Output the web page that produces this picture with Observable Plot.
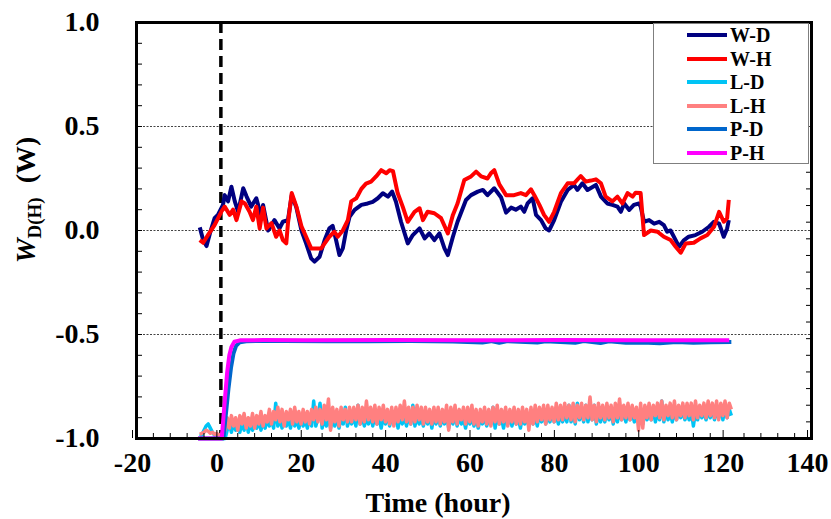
<!DOCTYPE html>
<html>
<head>
<meta charset="utf-8">
<script src="https://cdn.jsdelivr.net/npm/d3@7"></script>
<script src="https://cdn.jsdelivr.net/npm/@observablehq/plot@0.6"></script>
<style>
  body { margin: 0; background: #fff; }
  #wrap { position: relative; width: 831px; height: 519px; font-family: "Liberation Serif", "Times New Roman", serif; color: #000; }
  #chart svg { display: block; }
  .legend { position: absolute; left: 653px; top: 23px; width: 154px; height: 139px; border: 1px solid #7f7f7f; background: #fff; }
  .legend .row { position: absolute; left: 33px; height: 22px; display: flex; align-items: center; white-space: nowrap; }
  .legend .sw { display: inline-block; width: 40px; height: 4px; margin-right: 3px; }
  .legend .lb { font-weight: bold; font-size: 20px; line-height: 22px; }
  .ytitle { position: absolute; left: 28px; top: 200px; transform: translate(-50%, -50%) rotate(-90deg); white-space: nowrap; font-weight: bold; font-size: 28px; }
  .ytitle sub { font-size: 19px; vertical-align: -6px; font-style: normal; }
  .xtitle { position: absolute; left: 438px; top: 503px; transform: translate(-50%, -50%); white-space: nowrap; font-weight: bold; font-size: 28px; }
</style>
</head>
<body>
<div id="wrap">
  <div id="chart"></div>
  <div class="ytitle"><i>W</i><sub>D(H)</sub>&nbsp;&nbsp;(W)</div>
  <div class="xtitle">Time (hour)</div>
  <div class="legend" id="legend"></div>
</div>
<script>
// Series names and colours, in drawing order
const seriesNames = ["W-D", "W-H", "L-D", "L-H", "P-D", "P-H"];
const seriesColors = ["#000080", "#ff0000", "#00c4f5", "#ff8080", "#0066cc", "#ff00ff"];

// W-D and W-H: time (hour) and value (W)
const wdTime = [-5.0,-4.2,-3.4,-2.6,-1.5,-0.7,0.5,0.9,1.7,2.5,3.3,4.1,5.3,6.1,7.2,8.4,9.6,10.0,11.2,12.7,13.9,14.7,15.9,16.8,17.9,19.1,20.2,21.4,22.2,23.4,24.6,25.7,26.5,27.3,28.1,28.9,29.7,30.5,31.7,33.3,34.8,36.0,37.2,38.4,39.6,40.6,41.5,42.7,44.3,45.5,47.1,48.3,49.4,50.6,51.8,53.0,53.8,55.0,56.1,58.1,59.3,60.9,62.1,63.2,64.8,66.4,67.6,68.8,69.9,71.1,71.9,72.7,73.9,74.7,75.9,77.0,77.8,79.0,80.6,82.2,83.7,84.5,85.7,86.9,88.9,90.1,91.6,92.8,94.0,94.8,95.6,96.8,97.9,99.1,99.5,100.3,101.5,102.7,103.9,105.0,105.8,106.6,107.8,108.6,109.8,110.9,112.5,114.1,115.7,116.9,118.1,119.2,120.0,120.4];
const wdValue = [0.015,-0.046,-0.075,-0.014,0.059,0.075,0.123,0.17,0.14,0.21,0.14,0.09,0.203,0.163,0.115,0.155,0.066,0.123,0.0,0.05,0.01,0.042,0.05,0.17,0.11,0.0,-0.062,-0.134,-0.15,-0.126,-0.046,0.01,0.022,-0.046,-0.118,-0.086,0.0,0.066,0.099,0.123,0.13,0.138,0.155,0.179,0.163,0.187,0.138,0.042,-0.062,-0.022,0.01,-0.038,-0.014,-0.046,-0.014,-0.086,-0.118,-0.03,0.042,0.147,0.17,0.187,0.195,0.17,0.203,0.16,0.086,0.11,0.1,0.115,0.09,0.13,0.155,0.075,0.05,0.01,0.0,0.05,0.138,0.195,0.219,0.195,0.227,0.195,0.219,0.163,0.13,0.123,0.115,0.09,0.13,0.099,0.123,0.13,0.115,0.042,0.05,0.033,0.042,0.026,-0.006,0.0,-0.046,-0.078,-0.046,-0.03,-0.022,-0.006,0.018,0.042,0.033,-0.03,0.01,0.05];

const whTime = [-5.0,-4.2,-3.0,-1.5,0.1,0.9,2.1,2.9,3.7,4.9,5.7,6.8,7.6,8.4,9.2,10.0,10.8,12.0,13.1,13.9,14.7,15.5,15.9,16.8,17.9,19.1,20.2,21.4,23.8,24.6,25.7,26.9,27.7,28.9,30.1,30.9,32.1,33.3,34.4,35.6,36.8,38.0,39.2,40.0,40.8,41.9,43.1,44.3,45.9,47.1,47.9,49.0,50.6,52.2,53.8,55.0,56.1,57.7,59.3,60.5,61.7,63.2,64.0,64.8,66.0,67.6,69.5,71.1,72.3,73.5,74.3,75.5,76.6,77.8,79.0,80.6,82.2,83.7,85.3,86.5,87.7,88.9,90.1,91.2,92.8,94.0,95.2,96.4,97.6,98.3,99.5,100.3,101.9,103.5,105.0,106.6,107.8,109.0,110.2,112.1,113.7,115.3,116.9,118.1,119.2,120.0,120.4];
const whValue = [-0.046,-0.059,-0.02,0.026,0.09,0.115,0.075,0.10,0.05,0.14,0.13,0.09,0.05,0.115,0.01,0.11,0.01,0.035,-0.03,0.0,-0.046,-0.062,0.035,0.18,0.115,0.02,-0.03,-0.086,-0.086,-0.062,-0.03,-0.006,-0.03,0.0,0.05,0.14,0.155,0.2,0.225,0.235,0.26,0.29,0.275,0.29,0.285,0.18,0.115,0.042,0.09,0.107,0.05,0.09,0.083,0.059,-0.014,0.075,0.13,0.243,0.26,0.283,0.26,0.25,0.275,0.29,0.222,0.17,0.17,0.18,0.17,0.198,0.17,0.123,0.075,0.042,0.09,0.18,0.227,0.227,0.262,0.235,0.24,0.246,0.227,0.163,0.14,0.163,0.13,0.18,0.163,0.182,0.18,-0.022,0.0,-0.006,-0.03,-0.046,-0.078,-0.107,-0.062,-0.059,-0.038,-0.022,0.018,0.09,0.042,0.059,0.147];

// L-D and L-H: logged every 0.5 hour from -5 h
const lStart = -5, lStep = 0.5;
const ldValue = [
  -0.99,-0.985,-0.96,-0.94,-0.93,-0.95,-0.97,-0.985,-0.98,-0.99,-0.995,-1.0,
  -1.0,-0.96,-0.93,-0.97,-0.92,-0.96,-0.93,-0.97,-0.92,-0.96,-0.91,-0.97,-0.92,-0.96,-0.93,-0.95,-0.91,-0.96,-0.92,-0.95,
  -0.90,-0.94,-0.91,-0.95,-0.83,-0.94,-0.90,-0.95,-0.91,-0.94,-0.90,-0.95,-0.89,-0.94,-0.91,-0.95,-0.90,-0.94,-0.91,-0.95,
  -0.89,-0.94,-0.82,-0.94,-0.90,-0.83,-0.95,-0.90,-0.94,-0.89,-0.95,-0.90,-0.94,-0.89,-0.95,-0.90,-0.93,-0.85,-0.94,-0.90,
  -0.93,-0.89,-0.94,-0.84,-0.93,-0.89,-0.94,-0.90,-0.93,-0.88,-0.94,-0.89,-0.93,-0.90,-0.95,-0.89,-0.93,-0.88,-0.94,-0.89,
  -0.93,-0.89,-0.95,-0.88,-0.93,-0.89,-0.94,-0.89,-0.93,-0.84,-0.94,-0.89,-0.93,-0.90,-0.94,-0.89,-0.93,-0.88,-0.95,-0.89,
  -0.93,-0.89,-0.94,-0.90,-0.93,-0.88,-0.95,-0.89,-0.93,-0.88,-0.94,-0.89,-0.93,-0.90,-0.95,-0.89,-0.93,-0.90,-0.94,-0.89,
  -0.95,-0.90,-0.93,-0.89,-0.94,-0.90,-0.93,-0.85,-0.95,-0.89,-0.93,-0.90,-0.95,-0.89,-0.93,-0.90,-0.94,-0.89,-0.93,-0.90,
  -0.95,-0.89,-0.93,-0.90,-0.94,-0.88,-0.93,-0.89,-0.94,-0.88,-0.92,-0.88,-0.93,-0.89,-0.92,-0.87,-0.92,-0.88,-0.93,-0.87,
  -0.92,-0.88,-0.92,-0.84,-0.92,-0.87,-0.93,-0.83,-0.91,-0.87,-0.92,-0.84,-0.92,-0.87,-0.91,-0.84,-0.93,-0.87,-0.92,-0.87,
  -0.92,-0.87,-0.91,-0.86,-0.93,-0.87,-0.92,-0.86,-0.91,-0.87,-0.92,-0.86,-0.91,-0.87,-0.92,-0.86,-0.91,-0.87,-0.93,-0.86,
  -0.91,-0.87,-0.91,-0.86,-0.92,-0.87,-0.91,-0.82,-0.92,-0.86,-0.91,-0.87,-0.92,-0.86,-0.91,-0.87,-0.90,-0.86,-0.91,-0.87,
  -0.91,-0.86,-0.94,-0.87,-0.91,-0.86,-0.90,-0.87,-0.91,-0.86,-0.90,-0.85,-0.91,-0.87,-0.90,-0.86,-0.91,-0.85,-0.90,-0.86,
  -0.89
];
const lhValue = [
  -0.98,-0.975,-0.97,-0.96,-0.965,-0.975,-0.97,-0.98,-0.975,-0.985,-0.98,-0.975,
  -0.96,-0.90,-0.95,-0.89,-0.94,-0.90,-0.96,-0.89,-0.93,-0.88,-0.95,-0.90,-0.94,-0.88,-0.95,-0.89,-0.93,-0.87,-0.94,-0.89,
  -0.92,-0.86,-0.93,-0.87,-0.91,-0.85,-0.92,-0.86,-0.94,-0.87,-0.91,-0.86,-0.93,-0.85,-0.92,-0.87,-0.93,-0.86,-0.92,-0.87,
  -0.93,-0.86,-0.91,-0.85,-0.92,-0.86,-0.93,-0.84,-0.91,-0.81,-0.96,-0.85,-0.92,-0.86,-0.94,-0.85,-0.91,-0.86,-0.92,-0.85,
  -0.92,-0.85,-0.91,-0.84,-0.93,-0.85,-0.92,-0.82,-0.91,-0.85,-0.92,-0.84,-0.93,-0.85,-0.91,-0.84,-0.92,-0.86,-0.93,-0.85,
  -0.94,-0.85,-0.92,-0.84,-0.91,-0.82,-0.92,-0.85,-0.93,-0.85,-0.92,-0.84,-0.91,-0.85,-0.93,-0.85,-0.92,-0.86,-0.93,-0.85,
  -0.92,-0.85,-0.93,-0.86,-0.92,-0.84,-0.96,-0.85,-0.92,-0.84,-0.93,-0.86,-0.91,-0.85,-0.93,-0.85,-0.92,-0.84,-0.93,-0.86,
  -0.94,-0.86,-0.92,-0.85,-0.93,-0.86,-0.94,-0.85,-0.92,-0.84,-0.93,-0.86,-0.92,-0.85,-0.94,-0.86,-0.92,-0.85,-0.93,-0.86,
  -0.93,-0.85,-0.92,-0.86,-0.96,-0.85,-0.93,-0.84,-0.92,-0.85,-0.91,-0.84,-0.93,-0.84,-0.91,-0.85,-0.92,-0.83,-0.91,-0.84,
  -0.91,-0.83,-0.90,-0.84,-0.91,-0.83,-0.92,-0.84,-0.90,-0.83,-0.91,-0.84,-0.90,-0.80,-0.91,-0.84,-0.92,-0.83,-0.90,-0.84,
  -0.91,-0.83,-0.90,-0.84,-0.92,-0.83,-0.90,-0.81,-0.91,-0.84,-0.90,-0.83,-0.91,-0.84,-0.90,-0.85,-0.96,-0.83,-0.95,-0.84,
  -0.90,-0.83,-0.91,-0.84,-0.89,-0.83,-0.90,-0.82,-0.91,-0.84,-0.89,-0.83,-0.90,-0.82,-0.91,-0.84,-0.89,-0.83,-0.90,-0.83,
  -0.89,-0.83,-0.91,-0.82,-0.90,-0.84,-0.89,-0.83,-0.90,-0.82,-0.89,-0.83,-0.90,-0.82,-0.91,-0.83,-0.89,-0.82,-0.90,-0.83,
  -0.86
];

// P-D and P-H: time (hour) and value (W)
const pdTime = [-5.4,0.6,1.2,1.8,2.4,3.0,3.6,4.5,6,15,25,35,45,55,62,64,66,68,75,77,84,86,90,92,96,100,104,108,112,116,121];
const pdValue = [-1,-1,-0.88,-0.76,-0.66,-0.59,-0.555,-0.537,-0.532,-0.531,-0.533,-0.532,-0.531,-0.534,-0.538,-0.532,-0.54,-0.532,-0.539,-0.532,-0.54,-0.531,-0.541,-0.533,-0.54,-0.538,-0.542,-0.536,-0.54,-0.537,-0.536];
const phTime = [-5.4,0.2,1.0,1.5,2.0,2.5,3.2,4.5,10,20,40,60,80,100,120.5];
const phValue = [-1,-1,-0.80,-0.68,-0.60,-0.56,-0.535,-0.528,-0.527,-0.528,-0.527,-0.528,-0.527,-0.528,-0.528];

// Axis ticks
const xLabelTicks = [-20, 0, 20, 40, 60, 80, 100, 120, 140];
const xMinorTicks = [-16,-12,-8,-4,4,8,12,16,24,28,32,36,44,48,52,56,64,68,72,76,84,88,92,96,104,108,112,116,124,128,132,136];
const yLabelTicks = [-1, -0.5, 0, 0.5, 1];
const yMinorTicks = [-0.9,-0.8,-0.7,-0.6,-0.5,-0.4,-0.3,-0.2,-0.1,0,0.1,0.2,0.3,0.4,0.5,0.6,0.7,0.8,0.9];
const yRightTicks = [-0.92,-0.84,-0.76,-0.68,-0.60,-0.52,-0.44,-0.36,-0.28,-0.20,-0.12,-0.04,0.04,0.12,0.20,0.28];
const gridValues = [-0.5, 0, 0.5];
const startTime = [0];

const zip = (ts, vs) => ts.map((t, i) => ({t, v: vs[i]}));
const grid = (vs) => vs.map((v, i) => ({t: lStart + lStep * i, v}));

const series = [
  {data: zip(wdTime, wdValue), w: 4},
  {data: zip(whTime, whValue), w: 4},
  {data: grid(ldValue), w: 3.5},
  {data: grid(lhValue), w: 3.5},
  {data: zip(pdTime, pdValue), w: 4},
  {data: zip(phTime, phValue), w: 4}
];

const lines = series.map((s, i) => Plot.line(s.data, {x: "t", y: "v", stroke: seriesColors[i], strokeWidth: s.w, strokeLinejoin: "round", strokeLinecap: "butt"}));

const chart = Plot.plot({
  width: 831,
  height: 519,
  marginLeft: 136,
  marginRight: 20,
  marginTop: 22,
  marginBottom: 81,
  style: {fontFamily: "'Liberation Serif', 'Times New Roman', serif", fontWeight: "bold", color: "#000", background: "#fff"},
  x: {domain: [-20, 140]},
  y: {domain: [-1, 1]},
  marks: [
    Plot.ruleY(gridValues, {stroke: "#444", strokeWidth: 1, strokeDasharray: "2,1.5"}),
    Plot.ruleX(startTime, {stroke: "#000", strokeWidth: 3.5, strokeDasharray: "11,6"}),
    ...lines,
    Plot.axisX({ticks: xMinorTicks, tickSize: -5, tickFormat: () => "", label: null}),
    Plot.axisX({ticks: xLabelTicks, tickSize: -8, tickPadding: 22, dx: -4, tickFormat: d => String(d), fontSize: 28, fontWeight: "bold", label: null}),
    Plot.axisY({ticks: yMinorTicks, tickSize: -6, tickFormat: () => "", label: null}),
    Plot.axisY({ticks: yLabelTicks, tickSize: 0, tickPadding: 37, tickFormat: d => d.toFixed(1), fontSize: 28, fontWeight: "bold", label: null}),
    Plot.axisY({anchor: "right", ticks: yRightTicks, tickSize: -6, tickFormat: () => "", label: null}),
    Plot.frame({stroke: "#000", strokeWidth: 3})
  ]
});
document.getElementById("chart").appendChild(chart);

// Legend box
const legend = document.getElementById("legend");
const rowCenters = [11, 34.7, 58, 82, 105.3, 128.7];
seriesNames.forEach((name, i) => {
  const row = document.createElement("div");
  row.className = "row";
  row.style.top = (rowCenters[i] - 11) + "px";
  row.innerHTML = `<span class="sw" style="background:${seriesColors[i]}"></span><span class="lb">${name}</span>`;
  legend.appendChild(row);
});
</script>
</body>
</html>
